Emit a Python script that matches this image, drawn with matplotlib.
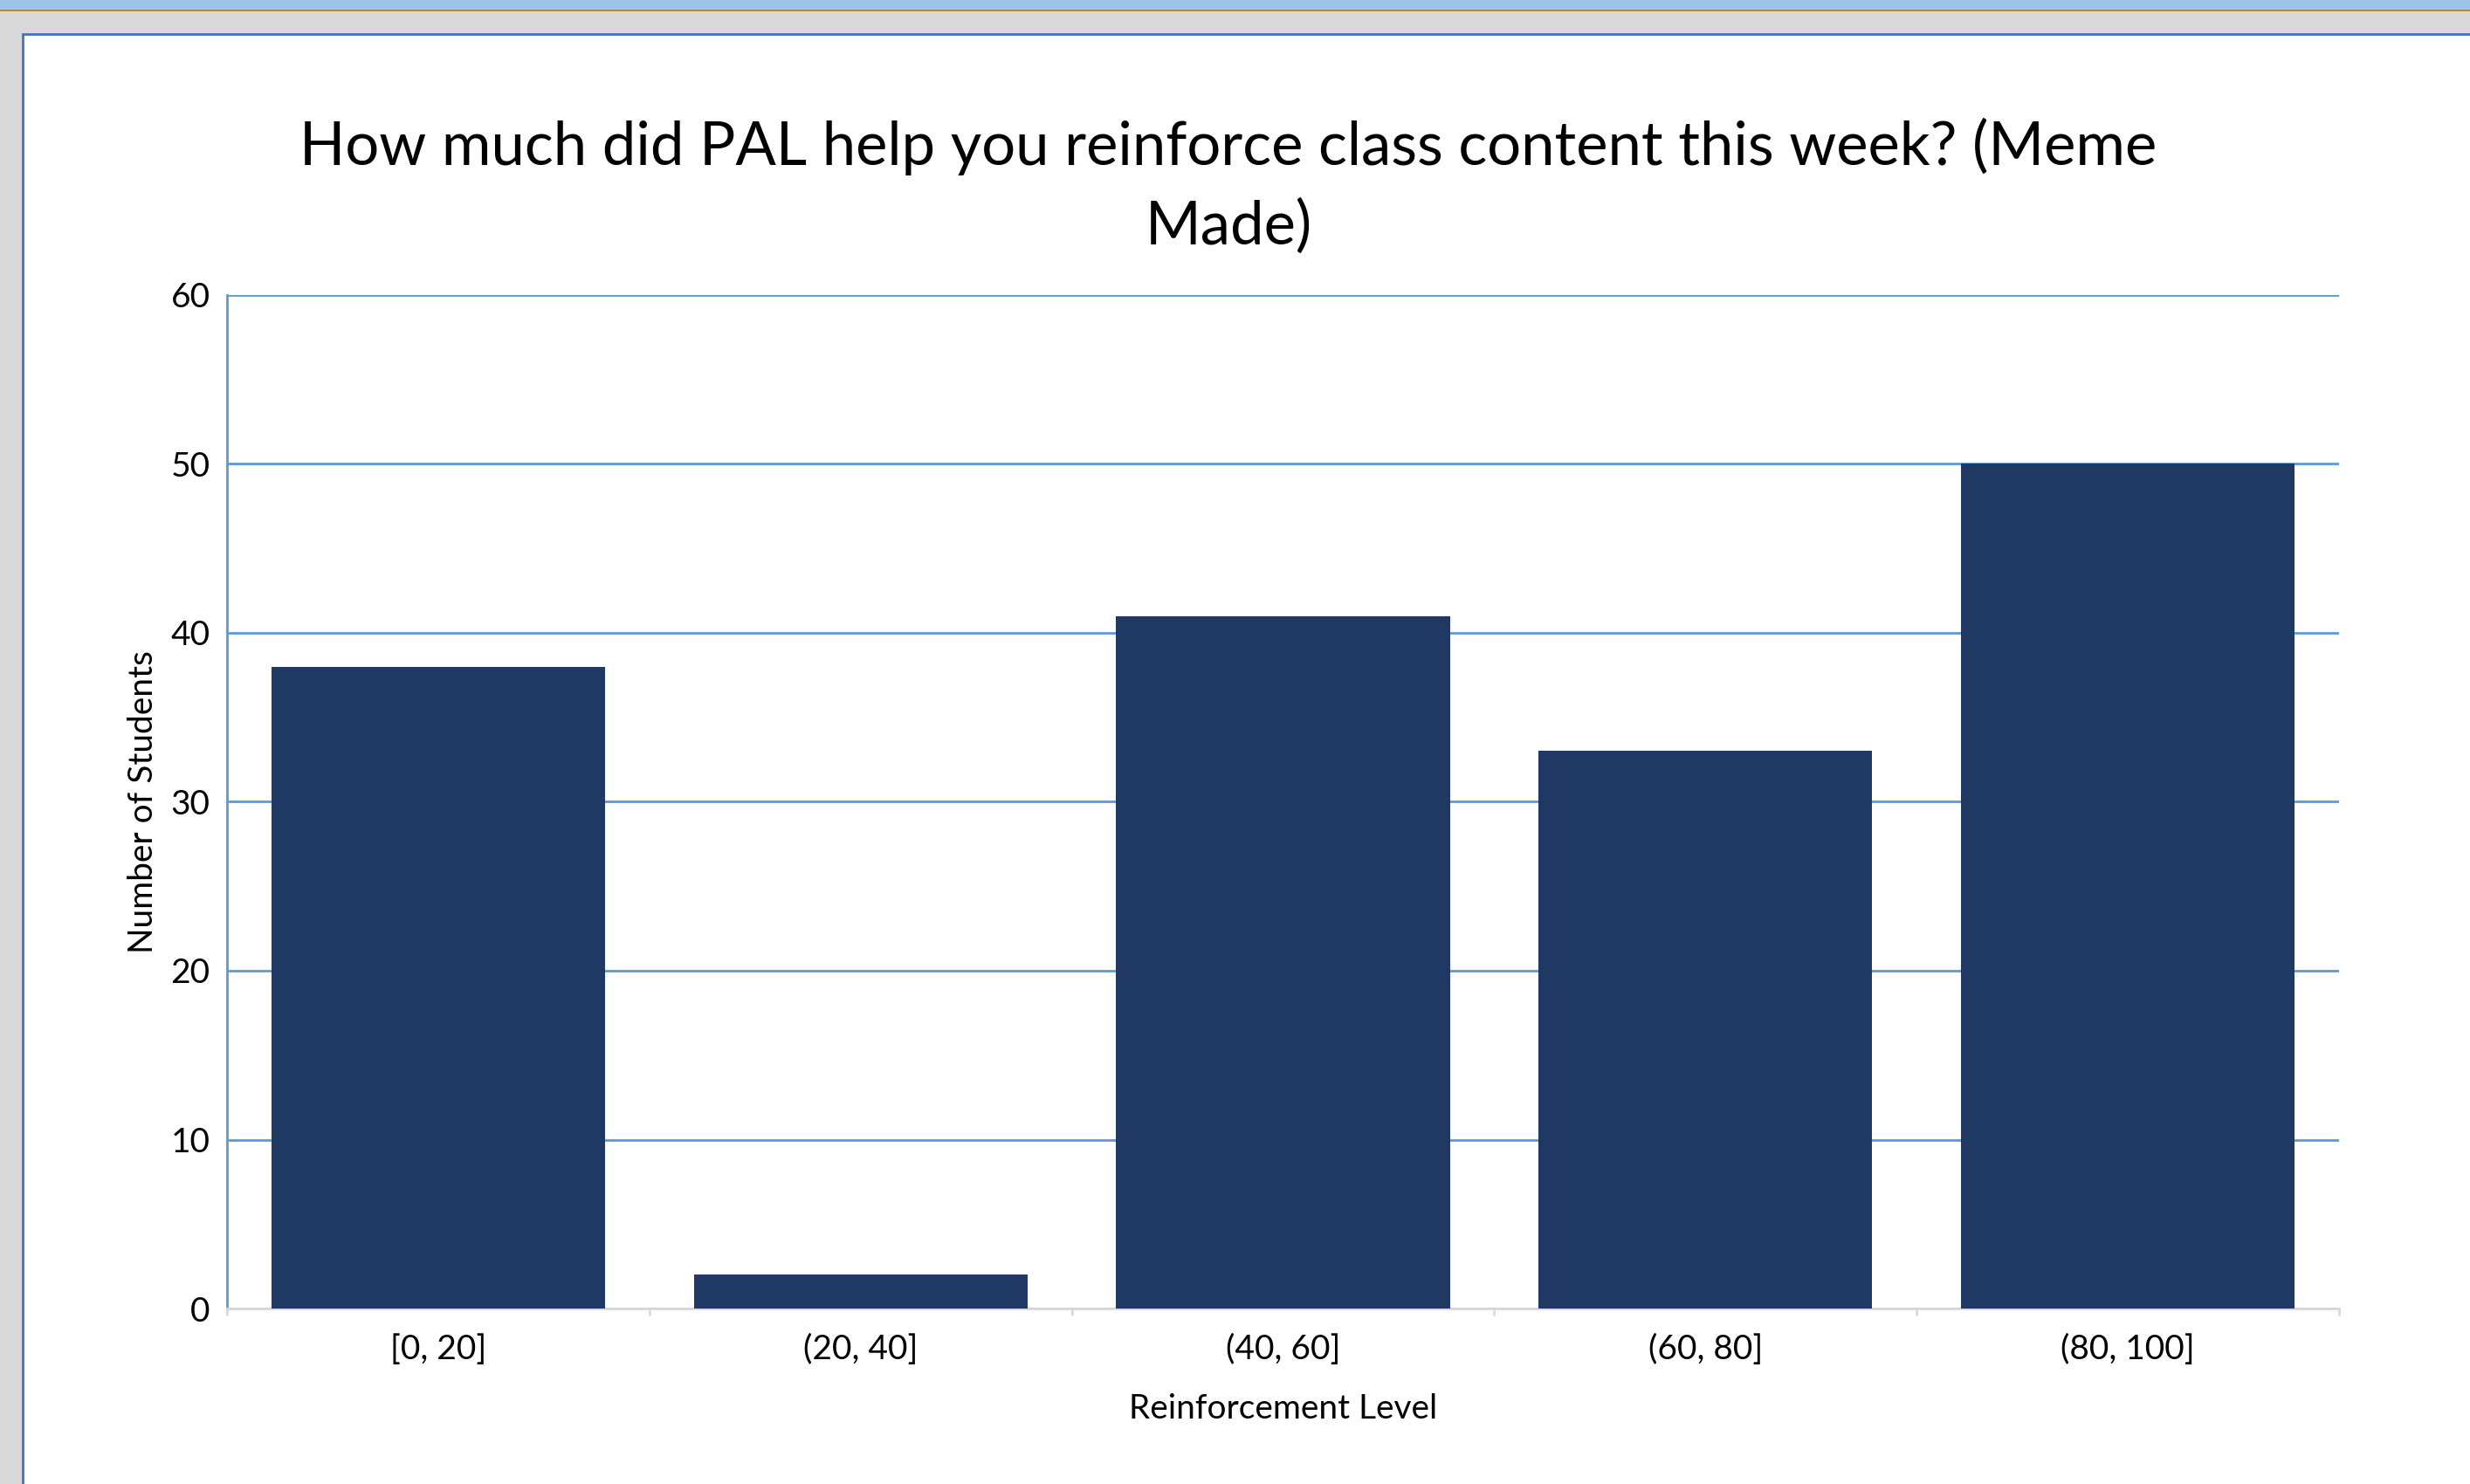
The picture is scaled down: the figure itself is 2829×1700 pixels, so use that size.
import matplotlib.pyplot as plt
from matplotlib.patches import Rectangle
from matplotlib.ticker import FixedLocator
import numpy as np

categories = ["[0, 20]", "(20, 40]", "(40, 60]", "(60, 80]", "(80, 100]"]
students = [38, 2, 41, 33, 50]
y_ticks = [0, 10, 20, 30, 40, 50, 60]

title = "How much did PAL help you reinforce class content this week? (Meme\nMade)"
x_label = "Reinforcement Level"
y_label = "Number of Students"

W, H = 2829, 1700
plt.rcParams["font.family"] = ["Lato", "DejaVu Sans"]

bar_color = "#203864"
grid_blue = "#5B9BD5"
axis_gray = "#D9D9D9"

fig = plt.figure(figsize=(W / 100, H / 100), dpi=100)
fig.patch.set_facecolor("#D9D9D9")


def px_rect(x0, y0, x1, y1, **kw):
    # rectangle given in pixel coords measured from top-left
    fig.patches.append(Rectangle((x0 / W, 1 - y1 / H), (x1 - x0) / W, (y1 - y0) / H,
                                 transform=fig.transFigure, figure=fig, zorder=-10, **kw))


# window chrome around the chart
px_rect(0, 0, W, 11, color="#9DC3E6", lw=0)
px_rect(0, 11, W, 13, color="#BF9000", lw=0)
px_rect(26, 39, W + 5, H + 5, facecolor="white", edgecolor="#4472C4", lw=2)

ax = fig.add_axes([260 / W, 1 - 1499 / H, (2679 - 260) / W, (1499 - 338) / H])
ax.set_facecolor("none")

x = np.arange(len(categories))
ax.bar(x, students, width=0.79, color=bar_color, zorder=3)

ax.set_xlim(-0.5, len(categories) - 0.5)
ax.set_ylim(0, 60)
ax.set_yticks(y_ticks)
ax.set_xticks(x)
ax.set_xticklabels(categories)
ax.xaxis.set_minor_locator(FixedLocator(np.arange(-0.5, len(categories), 1.0)))

ax.yaxis.grid(True, color=grid_blue, lw=2.0, zorder=0)
ax.set_axisbelow(True)
for side in ["top", "right"]:
    ax.spines[side].set_visible(False)
ax.spines["left"].set_color(grid_blue)
ax.spines["left"].set_linewidth(2.0)
ax.spines["bottom"].set_color(axis_gray)
ax.spines["bottom"].set_linewidth(2.0)

ax.tick_params(axis="y", length=0, pad=14, labelsize=28)
ax.tick_params(axis="x", which="major", length=0, pad=21, labelsize=28)
ax.tick_params(axis="x", which="minor", length=6, width=2, color=axis_gray)

ax.set_xlabel(x_label, fontsize=28, labelpad=23)
ax.set_ylabel(y_label, fontsize=28, labelpad=10)

fig.text(1407 / W, 1 - 213 / H, title, ha="center", va="center",
         fontsize=49.5, linespacing=1.5)

fig.savefig("out.png", dpi=100, facecolor=fig.get_facecolor())
